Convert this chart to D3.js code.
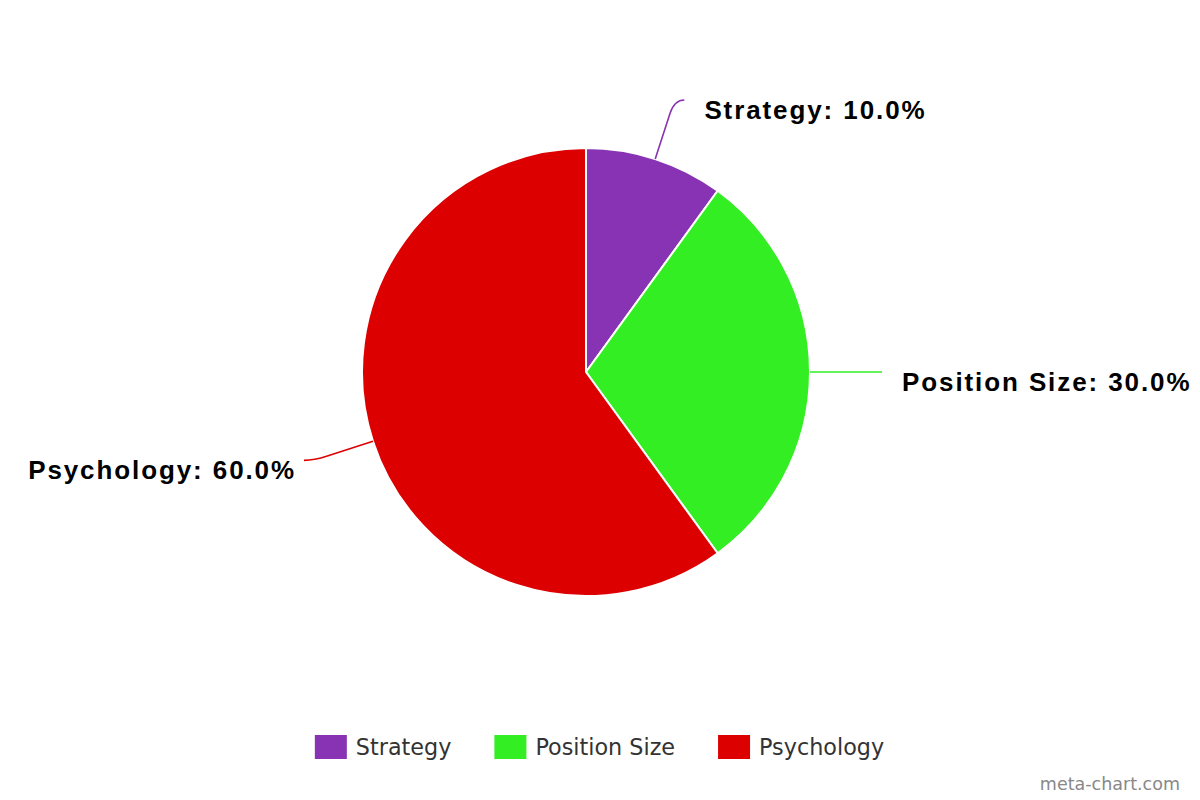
<!DOCTYPE html>
<html>
<head>
<meta charset="utf-8">
<script src="https://cdn.jsdelivr.net/npm/d3@7"></script>
<style>
  html, body { margin: 0; padding: 0; background: #ffffff; }
  svg { display: block; }
</style>
</head>
<body>
<svg id="chart" width="1200" height="800"></svg>
<script>
const categories = ["Strategy", "Position Size", "Psychology"];
const values = [10, 30, 60];
const colors = ["#8833B4", "#33EE22", "#DD0000"];
const watermark = "meta-chart.com";

const W = 1200, H = 800;
const cx = 586, cy = 372, R = 224;
const svg = d3.select("#chart");

const total = d3.sum(values);
const data = categories.map((c, i) => ({ name: c, value: values[i], color: colors[i] }));

const pie = d3.pie().value(d => d.value).sort(null).startAngle(0).endAngle(2 * Math.PI);
const arcs = pie(data);
const arc = d3.arc().innerRadius(0).outerRadius(R);

const g = svg.append("g").attr("transform", `translate(${cx},${cy})`);

g.selectAll("path.slice")
  .data(arcs)
  .enter().append("path")
  .attr("class", "slice")
  .attr("d", arc)
  .attr("fill", d => d.data.color)
  .attr("stroke", "#ffffff")
  .attr("stroke-width", 2)
  .attr("stroke-linejoin", "round");

// labels + connectors
const labelR = R + 62;
const breakR = R + 48;
const fmt = d3.format(".1f");

arcs.forEach(a => {
  const mid = (a.startAngle + a.endAngle) / 2;
  const sx = Math.sin(mid), sy = -Math.cos(mid);
  const right = sx >= 0;
  const sign = right ? 1 : -1;
  const p0 = [R * sx, R * sy];
  const pb = [breakR * sx, breakR * sy];
  const ey = labelR * sy;
  const ex = sign * (Math.sqrt(Math.max(0, labelR * labelR - ey * ey)) + 10);
  let ctrl;
  if (Math.abs(sy) > 1e-6) {
    const t = ey / sy;
    ctrl = [t * sx, ey];
  } else {
    ctrl = [(pb[0] + ex) / 2, ey];
  }
  const path = d3.path();
  path.moveTo(p0[0], p0[1]);
  path.lineTo(pb[0], pb[1]);
  path.quadraticCurveTo(ctrl[0], ctrl[1], ex, ey);
  g.append("path")
    .attr("d", path.toString())
    .attr("fill", "none")
    .attr("stroke", a.data.color)
    .attr("stroke-width", 1.6);

  const pct = a.data.value / total * 100;
  g.append("text")
    .attr("x", right ? ex + 20 : ex - 8)
    .attr("y", ey + 19)
    .attr("text-anchor", right ? "start" : "end")
    .attr("font-family", "'Liberation Sans', Arial, sans-serif")
    .attr("font-weight", "bold")
    .attr("font-size", 26)
    .attr("letter-spacing", "1.9px")
    .attr("fill", "#000000")
    .text(`${a.data.name}: ${fmt(pct)}%`);
});

// legend
const legend = svg.append("g");
const legendFont = "'DejaVu Sans', Verdana, sans-serif";
const items = legend.selectAll("g.item").data(data).enter().append("g").attr("class", "item");
items.append("rect")
  .attr("width", 32).attr("height", 24)
  .attr("y", 735)
  .attr("fill", d => d.color);
items.append("text")
  .attr("y", 755)
  .attr("x", 41)
  .attr("font-family", legendFont)
  .attr("font-size", 22.3)
  .attr("fill", "#333333")
  .text(d => d.name);
let xs = [];
let xcur = 0;
const itemGap = 43;
items.each(function () {
  const tw = d3.select(this).select("text").node().getComputedTextLength();
  xs.push(xcur);
  xcur += 41 + tw + itemGap;
});
const legendW = xcur - itemGap;
const legendX0 = 599.5 - legendW / 2;
items.attr("transform", (d, i) => `translate(${legendX0 + xs[i]},0)`);

// watermark
svg.append("text")
  .attr("x", 1180)
  .attr("y", 790)
  .attr("text-anchor", "end")
  .attr("font-family", legendFont)
  .attr("font-size", 17.5)
  .attr("fill", "#888888")
  .text(watermark);
</script>
</body>
</html>
